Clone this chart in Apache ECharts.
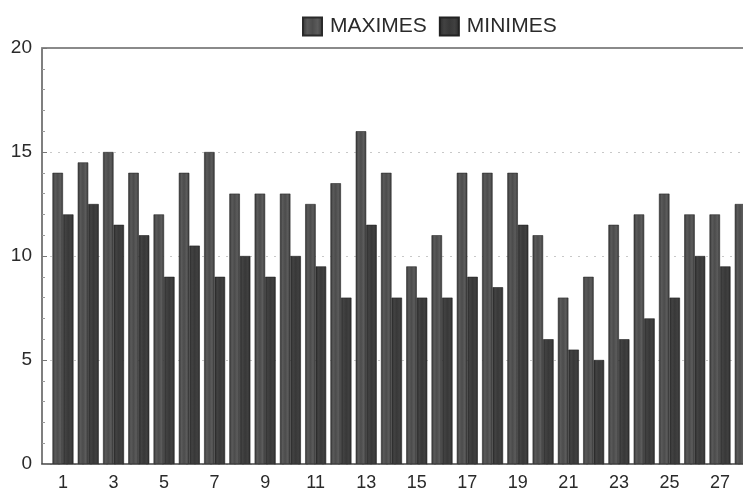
<!DOCTYPE html>
<html>
<head>
<meta charset="utf-8">
<script src="https://cdn.jsdelivr.net/npm/echarts@6/dist/echarts.min.js"></script>
<style>html,body{margin:0;padding:0;background:#fff;}#c{width:743px;height:499px;}</style>
</head>
<body>
<div id="c"></div>
<script>
const days = [1,2,3,4,5,6,7,8,9,10,11,12,13,14,15,16,17,18,19,20,21,22,23,24,25,26,27,28];
const maximes = [14,14.5,15,14,12,14,15,13,13,13,12.5,13.5,16,14,9.5,11,14,14,14,11,8,9,11.5,12,13,12,12,12.5];
const minimes = [12,12.5,11.5,11,9,10.5,9,10,9,10,9.5,8,11.5,8,8,8,9,8.5,11.5,6,5.5,5,6,7,8,10,9.5,10];
const xLabels = [1,3,5,7,9,11,13,15,17,19,21,23,25,27];
const yTicks = [0,5,10,15,20];

const font = 'Liberation Sans, Arial, sans-serif';
const chart = echarts.init(document.getElementById('c'), null, {renderer: 'canvas'});
const grad = (stops) => new echarts.graphic.LinearGradient(0,0,1,0, stops.map((c,i)=>({offset: i/(stops.length-1), color: c})));

chart.setOption({
  animation: false,
  backgroundColor: '#fff',
  textStyle: {fontFamily: font},
  legend: {
    left: 297, top: 11,
    icon: 'rect',
    itemWidth: 19, itemHeight: 18, itemGap: 12,
    textStyle: {fontSize: 21, color: '#2a2a2a', fontFamily: font, padding: [0,0,0,3]},
    data: ['MAXIMES','MINIMES']
  },
  grid: {left: 42, top: 48, bottom: 35, right: 0},
  xAxis: [{
    type: 'value', min: 0.17, max: 27.91,
    axisLine: {show: true, lineStyle: {color: '#444', width: 1.5}},
    axisTick: {show: false},
    splitLine: {show: false},
    axisLabel: {customValues: xLabels, fontSize: 18, color: '#2a2a2a', margin: 10, fontFamily: font}
  }, {
    type: 'value', min: 0.17, max: 27.91, position: 'top',
    axisLine: {show: true, onZero: false, lineStyle: {color: '#8a8a8a', width: 2}},
    axisTick: {show: false}, axisLabel: {show: false}, splitLine: {show: false}
  }],
  yAxis: {
    type: 'value', min: 0, max: 20, interval: 5,
    axisLine: {show: true, lineStyle: {color: '#555', width: 1.5}},
    axisTick: {show: true, inside: true, length: 5, lineStyle: {color: '#777'}},
    minorTick: {show: true, splitNumber: 5, length: 3, lineStyle: {color: '#999'}},
    splitLine: {show: true, lineStyle: {color: '#c8c8c8', type: [2,6], width: 1}},
    axisLabel: {fontSize: 19, color: '#2a2a2a', margin: 10, fontFamily: font}
  },
  series: [{
    name: 'MAXIMES', type: 'bar', barWidth: 10.5, barGap: '0%',
    data: days.map((d,i)=>[d, maximes[i]]),
    itemStyle: {color: grad(['#333','#5a5a5a','#4c4c4c','#5c5c5c','#383838']), borderColor: '#2a2a2a', borderWidth: 0.6}
  }, {
    name: 'MINIMES', type: 'bar', barWidth: 10.5, barGap: '0%',
    data: days.map((d,i)=>[d, minimes[i]]),
    itemStyle: {color: grad(['#2a2a2a','#424242','#383838','#404040','#2c2c2c']), borderColor: '#222', borderWidth: 0.6}
  }]
});
</script>
</body>
</html>
